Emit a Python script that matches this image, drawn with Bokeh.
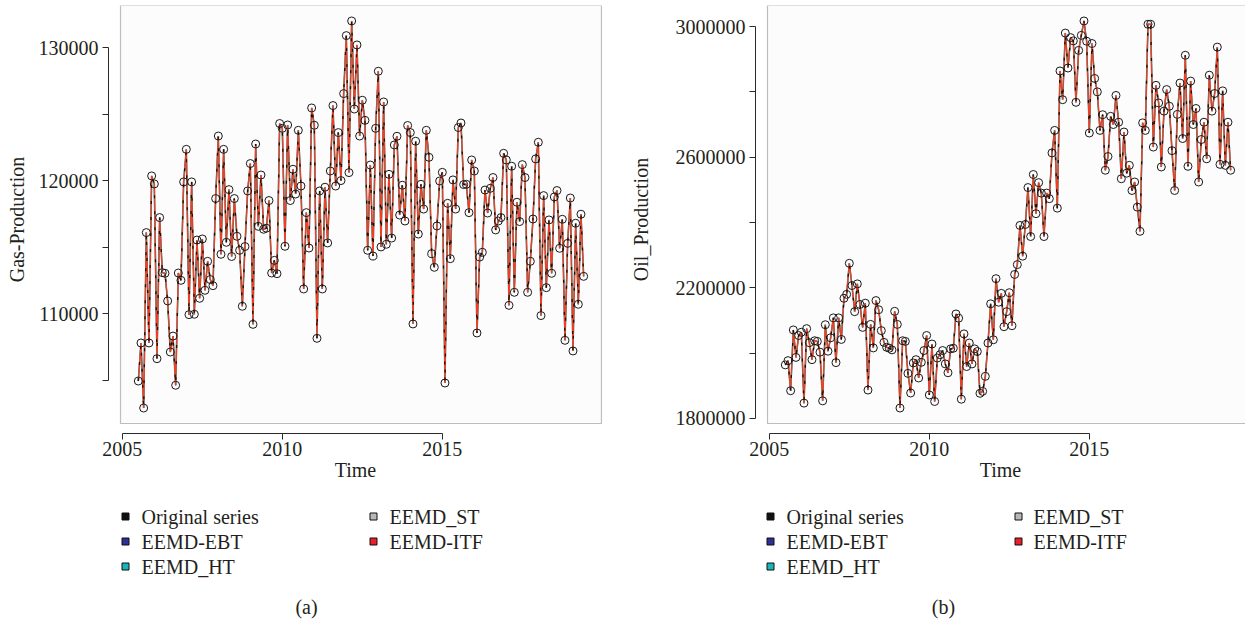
import numpy as np
from bokeh.plotting import figure
from bokeh.layouts import row, column
from bokeh.models import Range1d, BoxAnnotation, FixedTicker
from bokeh.core.properties import value
from bokeh.embed import file_html
from bokeh.resources import INLINE

# ---------------- data (monthly, July 2005 .. June 2019) ----------------
start_year = 2005
start_month = 7

gas_original = [
    104930, 107790, 102900, 116090, 107790, 120350, 119750, 106610, 117220, 113080,
    113030, 110950, 107110, 108310, 104610, 113050, 112500, 119900, 122350, 109920,
    119900, 109950, 115530, 111150, 115610, 111750, 113930, 112560, 112100, 118650,
    123350, 114460, 122350, 115360, 119320, 114290, 118650, 115810, 114760, 110550,
    115040, 119220, 121280, 109190, 122750, 116560, 120420, 116340, 116420, 118500,
    113050, 114000, 113000, 124290, 123930, 115060, 124180, 118500, 120850, 118990,
    123780, 119590, 111850, 117590, 114930, 125460, 124160, 108140, 119220, 111850,
    119500, 115310, 120720, 125640, 119590, 123610, 120000, 126540, 130900, 120600,
    132000, 125380, 130200, 123350, 126040, 124530, 114760, 121170, 114330, 123930,
    128220, 115010, 125910, 115210, 120470, 115680, 122680, 123330, 117410, 119650,
    116960, 124140, 123610, 109220, 122960, 115980, 119720, 117860, 123780, 121750,
    114510, 113480, 116590, 119970, 120620, 104780, 118290, 114130, 120050, 117860,
    123990, 124330, 119700, 119720, 117590, 121550, 120720, 108540, 114250, 114610,
    119290, 117560, 119420, 120230, 116290, 116960, 117220, 122050, 121550, 110620,
    121080, 111600, 118370, 116920, 121200, 120230, 111600, 113930, 117110, 121630,
    122880, 109850, 118870, 111950, 117040, 113030, 118770, 119250, 114910, 117090,
    107990, 115280, 118690, 107190, 116790, 110700, 117470, 112800,
]

oil_original = [
    1964000, 1977000, 1885000, 2071000, 1987000, 2054000, 2064000, 1847000, 2075000, 2032000,
    1980000, 2038000, 2036000, 2003000, 1854000, 2087000, 2006000, 2047000, 2108000, 1971000,
    2108000, 2042000, 2168000, 2180000, 2275000, 2207000, 2127000, 2212000, 2149000, 2079000,
    2153000, 1887000, 2088000, 2016000, 2161000, 2133000, 2069000, 2033000, 2018000, 2015000,
    2010000, 2128000, 2088000, 1832000, 2038000, 2036000, 1938000, 1878000, 1970000, 1980000,
    1924000, 1972000, 2008000, 2054000, 1872000, 2028000, 1852000, 1985000, 1995000, 2008000,
    1967000, 1940000, 2013000, 2015000, 2120000, 2107000, 1859000, 2059000, 1959000, 2031000,
    1967000, 2013000, 2005000, 1877000, 1883000, 1929000, 2031000, 2151000, 2041000, 2228000,
    2156000, 2183000, 2081000, 2127000, 2185000, 2084000, 2241000, 2271000, 2391000, 2297000,
    2394000, 2507000, 2357000, 2547000, 2427000, 2522000, 2490000, 2357000, 2490000, 2473000,
    2613000, 2682000, 2444000, 2864000, 2776000, 2980000, 2873000, 2966000, 2956000, 2768000,
    2927000, 2973000, 3017000, 2955000, 2674000, 2948000, 2841000, 2800000, 2682000, 2730000,
    2560000, 2602000, 2725000, 2700000, 2789000, 2707000, 2534000, 2677000, 2551000, 2575000,
    2498000, 2524000, 2447000, 2373000, 2705000, 2682000, 3007000, 3007000, 2631000, 2820000,
    2766000, 2570000, 2741000, 2807000, 2756000, 2620000, 2498000, 2731000, 2827000, 2657000,
    2912000, 2572000, 2833000, 2700000, 2749000, 2524000, 2654000, 2707000, 2595000, 2851000,
    2741000, 2795000, 2937000, 2578000, 2803000, 2575000, 2707000, 2560000,
]

# The four EEMD reconstructions lie on top of the original series in the picture
gas_ebt = list(gas_original)
gas_ht = list(gas_original)
gas_st = list(gas_original)
gas_itf = list(gas_original)
oil_ebt = list(oil_original)
oil_ht = list(oil_original)
oil_st = list(oil_original)
oil_itf = list(oil_original)

series_names = ["Original series", "EEMD-EBT", "EEMD_HT", "EEMD_ST", "EEMD-ITF"]
series_colors = ["#111111", "#2E3192", "#1BB5B8", "#B8B8B8", "#E8202A"]

x_ticks = [2005, 2010, 2015]
gas_ticks = [105000, 110000, 115000, 120000, 125000, 130000]
gas_labelled = [110000, 120000, 130000]
oil_ticks = [1800000, 2000000, 2200000, 2400000, 2600000, 2800000, 3000000]
oil_labelled = [1800000, 2200000, 2600000, 3000000]
y_titles = ["Gas-Production", "Oil_Production"]
x_title = "Time"
captions = ["(a)", "(b)"]

FONT = "Liberation Serif"
TXT = "#231F20"
LINE_RED = "#F23D1E"

n = len(gas_original)
t = start_year + (start_month - 1) / 12.0 + np.arange(n) / 12.0


def make_panel(orig, ebt, ht, st, itf, yticks, ylabelled, ytitle, width, bl, br, title_standoff):
    H, bt, bb = 490, 5, 57
    fw = width - bl - br
    fh = H - bt - bb
    allv = np.concatenate([orig, ebt, ht, st, itf])
    ylo, yhi = allv.min(), allv.max()
    ypad = 0.04 * (yhi - ylo)
    yb, yt = ylo - ypad, yhi + ypad
    xlo, xhi = t.min(), t.max()
    xpad = 0.04 * (xhi - xlo)
    xl, xr = xlo - xpad, xhi + xpad
    gx, gy = 12, 10
    pxx = 32.0
    x0 = xl - gx / pxx
    x1 = x0 + fw / pxx
    y0 = yb - (yt - yb) * gy / (fh - gy)

    p = figure(width=width, height=H, x_range=Range1d(x0, x1), y_range=Range1d(y0, yt),
               output_backend="svg", toolbar_location=None,
               min_border_left=bl, min_border_right=br, min_border_top=bt, min_border_bottom=bb)
    p.outline_line_color = None
    p.grid.visible = False
    p.background_fill_color = "white"
    p.border_fill_color = "white"

    box = BoxAnnotation(left=xl, right=xr, bottom=yb, top=yt, fill_color="#FCFCFC", fill_alpha=1.0,
                        line_color="#2A2A2A", line_width=1.2, level="underlay")
    p.add_layout(box)

    p.xaxis.ticker = FixedTicker(ticks=x_ticks)
    p.xaxis.bounds = (min(x_ticks), max(x_ticks))
    p.xaxis.major_label_overrides = {v: str(v) for v in x_ticks}
    p.yaxis.ticker = FixedTicker(ticks=yticks)
    p.yaxis.bounds = (min(yticks), max(yticks))
    p.yaxis.major_label_overrides = {v: (str(v) if v in ylabelled else "") for v in yticks}
    for ax in (p.xaxis, p.yaxis):
        ax.axis_line_color = "#2A2A2A"
        ax.axis_line_width = 1
        ax.major_tick_line_color = "#2A2A2A"
        ax.major_tick_in = 0
        ax.major_tick_out = 6
        ax.minor_tick_line_color = None
        ax.major_label_text_font = FONT
        ax.major_label_text_font_size = "20px"
        ax.major_label_text_color = TXT
        ax.axis_label_text_font = FONT
        ax.axis_label_text_font_size = "20px"
        ax.axis_label_text_font_style = "normal"
        ax.axis_label_text_color = TXT
    p.xaxis.major_label_standoff = 2
    p.yaxis.major_label_standoff = 4
    p.xaxis.axis_label = x_title
    p.xaxis.axis_label_standoff = 0
    p.yaxis.axis_label = ytitle
    p.yaxis.axis_label_standoff = title_standoff

    p.line(t, ebt, line_color=series_colors[1], line_width=1)
    p.line(t, st, line_color=series_colors[3], line_width=1)
    p.line(t, ht, line_color=series_colors[2], line_width=1.6)
    p.line(t, itf, line_color=LINE_RED, line_width=1.4)
    p.line(t, orig, line_color=series_colors[0], line_width=1.3, line_dash="3 13")
    p.scatter(t, orig, marker="circle", size=8, fill_color=None, line_color="#1A1A1A", line_width=1)
    return p


def make_legend(x_off, width, bl, br, sq_x, txt_x, cap_x, caption):
    # frame placed exactly like the panel frame above it; x coordinates are canvas pixels
    lf = figure(width=width, height=132, x_range=Range1d(x_off + bl, x_off + width - br),
                y_range=Range1d(622, 490), output_backend="svg", toolbar_location=None,
                min_border_left=bl, min_border_right=br, min_border_top=0, min_border_bottom=0,
                x_axis_location=None, y_axis_location=None)
    lf.outline_line_color = None
    lf.xgrid.visible = False
    lf.ygrid.visible = False
    rows_y = [516, 541, 566]
    xs, ys, txs = [], [], []
    for i, name in enumerate(series_names):
        c = 0 if i < 3 else 1
        r = i if i < 3 else i - 3
        xs.append(sq_x[c])
        txs.append(txt_x[c])
        ys.append(rows_y[r])
    lf.scatter(xs, ys, marker="square", size=7, fill_color=series_colors, line_color="#111111", line_width=1)
    lf.text(txs, ys, text=series_names, text_font=value(FONT), text_font_size="20px",
            text_baseline="middle", text_align="left", text_color=TXT)
    lf.text([cap_x], [606], text=[caption], text_font=value(FONT), text_font_size="20px",
            text_baseline="middle", text_align="center", text_color=TXT)
    return lf


pa = make_panel(gas_original, gas_ebt, gas_ht, gas_st, gas_itf, gas_ticks, gas_labelled,
                y_titles[0], 622, 108, 20, 8)
pb = make_panel(oil_original, oil_ebt, oil_ht, oil_st, oil_itf, oil_ticks, oil_labelled,
                y_titles[1], 623, 133, 0, 21)
la = make_legend(0, 622, 108, 20, [125, 373], [141, 389], 306, captions[0])
lb = make_legend(622, 623, 133, 0, [770, 1018], [786, 1033], 943, captions[1])

layout = row(column(pa, la, spacing=0), column(pb, lb, spacing=0), spacing=0)

open("out.html", "w").write(file_html(layout, INLINE))
